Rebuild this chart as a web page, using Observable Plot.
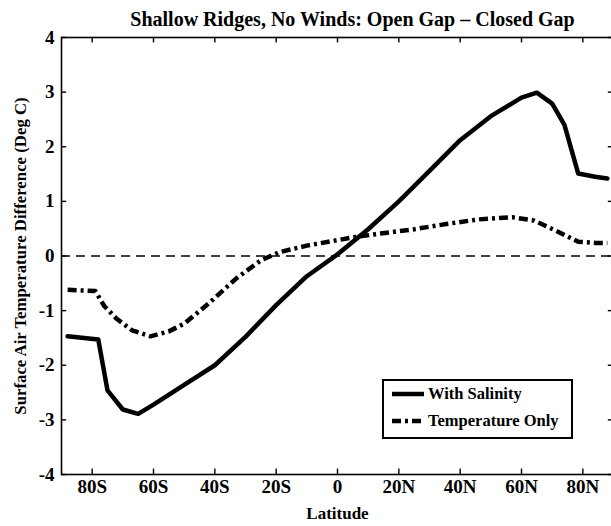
<!DOCTYPE html>
<html>
<head>
<meta charset="utf-8">
<script src="https://cdn.jsdelivr.net/npm/d3@7"></script>
<script src="https://cdn.jsdelivr.net/npm/@observablehq/plot@0.6"></script>
<style>
  html, body { margin: 0; padding: 0; background: #fff; }
  #wrap { position: relative; width: 611px; height: 526px; overflow: hidden; }
  #legend {
    position: absolute; left: 382px; top: 379px; width: 187px; height: 56px;
    border: 2px solid #000; background: #fff;
    font-family: "Liberation Serif", serif; font-weight: bold; font-size: 16.5px;
  }
  .row { position: absolute; left: 8px; display: flex; align-items: center; }
  .row svg { margin-right: 4px; }
</style>
</head>
<body>
<div id="wrap">
  <div id="chart"></div>
  <div id="legend"></div>
</div>
<script>
// Series: "With Salinity"
const salLat = [-88, -78, -75, -70, -65, -60, -50, -40, -30, -20, -10, 0, 10, 20, 30, 40, 50, 60, 65, 70, 74, 78.5, 84, 88];
const salVal = [-1.47, -1.53, -2.46, -2.81, -2.89, -2.72, -2.36, -2.0, -1.48, -0.90, -0.37, 0.03, 0.49, 1.0, 1.56, 2.12, 2.56, 2.90, 2.99, 2.79, 2.40, 1.51, 1.45, 1.42];
// Series: "Temperature Only"
const tmpLat = [-88, -79, -76, -72, -67, -61, -55, -50, -42, -33, -25, -19, -10, 0, 6, 14, 25, 36, 46, 57, 64, 71, 78.5, 84, 88];
const tmpVal = [-0.62, -0.64, -0.92, -1.15, -1.36, -1.47, -1.38, -1.24, -0.87, -0.41, -0.08, 0.07, 0.19, 0.29, 0.35, 0.41, 0.49, 0.59, 0.67, 0.71, 0.65, 0.47, 0.26, 0.24, 0.24];
// Axes
const xTicks = [-80, -60, -40, -20, 0, 20, 40, 60, 80];
const xTickLabels = ["80S", "60S", "40S", "20S", "0", "20N", "40N", "60N", "80N"];
const yTicks = [-4, -3, -2, -1, 0, 1, 2, 3, 4];
const yTickLabels = ["-4", "-3", "-2", "-1", "0", "1", "2", "3", "4"];
const seriesNames = ["With Salinity", "Temperature Only"];
const titleText = "Shallow Ridges, No Winds: Open Gap \u2013 Closed Gap";
const xLabel = "Latitude";
const yLabel = "Surface Air Temperature Difference (Deg C)";

const sal = salLat.map((d, i) => ({lat: d, v: salVal[i]}));
const tmp = tmpLat.map((d, i) => ({lat: d, v: tmpVal[i]}));
const FONT = "Liberation Serif, Times New Roman, serif";
const DASHDOT = "9,4,3,4";

const chart = Plot.plot({
  width: 611,
  height: 526,
  marginTop: 37,
  marginBottom: 52,
  marginLeft: 61,
  marginRight: -2,
  style: {fontFamily: FONT, fontWeight: "bold", background: "#fff", color: "#000"},
  x: {domain: [-90, 90]},
  y: {domain: [-4, 4]},
  marks: [
    Plot.ruleY([0], {stroke: "#000", strokeWidth: 1.5, strokeDasharray: "9,6"}),
    Plot.line(sal, {x: "lat", y: "v", stroke: "#000", strokeWidth: 4.5, strokeLinejoin: "round"}),
    Plot.line(tmp, {x: "lat", y: "v", stroke: "#000", strokeWidth: 4.5, strokeDasharray: DASHDOT, strokeLinecap: "butt"}),
    Plot.frame({stroke: "#000", strokeWidth: 1.6}),
    Plot.ruleX(xTicks, {x: d => d, y1: -4, y2: -3.9, stroke: "#000", strokeWidth: 1.4}),
    Plot.ruleX(xTicks, {x: d => d, y1: 4, y2: 3.9, stroke: "#000", strokeWidth: 1.4}),
    Plot.ruleY(yTicks, {y: d => d, x1: -90, x2: -88.3, stroke: "#000", strokeWidth: 1.4}),
    Plot.ruleY(yTicks, {y: d => d, x1: 90, x2: 88.3, stroke: "#000", strokeWidth: 1.4}),
    Plot.axisX({ticks: xTicks, tickFormat: d => xTickLabels[xTicks.indexOf(d)], tickSize: 0, tickPadding: 5, fontSize: 19, fontWeight: "bold", label: null}),
    Plot.axisY({ticks: yTicks, tickFormat: d => yTickLabels[yTicks.indexOf(d)], tickSize: 0, tickPadding: 7, fontSize: 19, fontWeight: "bold", label: null}),
    Plot.text([titleText], {text: d => d, frameAnchor: "top", lineAnchor: "middle", dy: -18, dx: 15, fontSize: 20, fontWeight: "bold"}),
    Plot.text([xLabel], {text: d => d, frameAnchor: "bottom", dy: 44, fontSize: 17, fontWeight: "bold"}),
    Plot.text([yLabel], {text: d => d, frameAnchor: "left", textAnchor: "middle", rotate: -90, dx: -41, fontSize: 16.8, fontWeight: "bold"})
  ]
});
document.getElementById("chart").appendChild(chart);

// Legend
const legend = document.getElementById("legend");
seriesNames.forEach((name, i) => {
  const row = document.createElement("div");
  row.className = "row";
  row.style.top = (i === 0 ? 3 : 30) + "px";
  row.innerHTML = `<svg width="32" height="20"><line x1="0" y1="10" x2="32" y2="10" stroke="#000" stroke-width="4.5" ${i === 1 ? `stroke-dasharray="${DASHDOT}"` : ""}/></svg><span>${name}</span>`;
  legend.appendChild(row);
});
</script>
</body>
</html>
